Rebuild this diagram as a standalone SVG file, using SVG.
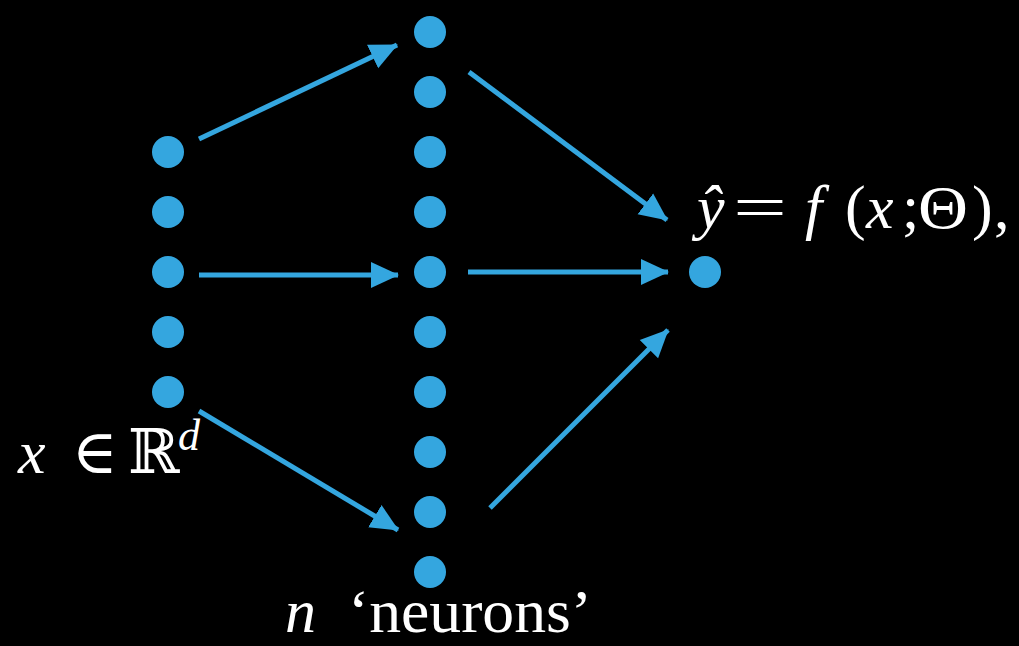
<svg xmlns="http://www.w3.org/2000/svg" width="1019" height="646" viewBox="0 0 1019 646">
<style>
.dot{fill:#34A6DF}
.ln{stroke:#34A6DF;stroke-width:5;fill:none;marker-end:url(#ah)}
.t{fill:#fff;font-family:'Liberation Serif','DejaVu Serif',serif;font-size:62px}
.i{font-style:italic}
</style>
<defs>
<marker id="ah" markerUnits="userSpaceOnUse" markerWidth="30" markerHeight="30" viewBox="0 0 30 30" refX="27" refY="15" orient="auto">
<path d="M0,2 L28,15 L0,28 Z" fill="#34A6DF"/>
</marker>
</defs>
<rect width="1019" height="646" fill="#000"/>
<g id="connectors">
<line class="ln" x1="199" y1="139" x2="397" y2="45"/>
<line class="ln" x1="199" y1="275" x2="398" y2="275"/>
<line class="ln" x1="199" y1="411" x2="398" y2="530"/>
<line class="ln" x1="469" y1="72" x2="667" y2="220"/>
<line class="ln" x1="468" y1="272" x2="668" y2="272"/>
<line class="ln" x1="490" y1="508" x2="668" y2="330"/>
</g>
<g id="input">
<circle class="dot" cx="168" cy="152" r="16"/>
<circle class="dot" cx="168" cy="212" r="16"/>
<circle class="dot" cx="168" cy="272" r="16"/>
<circle class="dot" cx="168" cy="332" r="16"/>
<circle class="dot" cx="168" cy="392" r="16"/>
</g>
<g id="hidden">
<circle class="dot" cx="430" cy="32" r="16"/>
<circle class="dot" cx="430" cy="92" r="16"/>
<circle class="dot" cx="430" cy="152" r="16"/>
<circle class="dot" cx="430" cy="212" r="16"/>
<circle class="dot" cx="430" cy="272" r="16"/>
<circle class="dot" cx="430" cy="332" r="16"/>
<circle class="dot" cx="430" cy="392" r="16"/>
<circle class="dot" cx="430" cy="452" r="16"/>
<circle class="dot" cx="430" cy="512" r="16"/>
<circle class="dot" cx="430" cy="572" r="16"/>
</g>
<g id="output">
<circle class="dot" cx="705" cy="272" r="16"/>
</g>
<g id="labels">
<text class="t" y="473"><tspan class="i" x="18">x</tspan><tspan x="72">∈</tspan><tspan x="128">ℝ</tspan><tspan class="i" x="178" y="450" font-size="44">d</tspan></text>
<text class="t" y="228"><tspan class="i" x="697">ŷ</tspan><tspan x="733" textLength="54" lengthAdjust="spacingAndGlyphs">=</tspan><tspan class="i" x="805">f</tspan><tspan x="845">(</tspan><tspan class="i" x="866">x</tspan><tspan x="902">;</tspan><tspan x="918" textLength="50" lengthAdjust="spacingAndGlyphs">Θ</tspan><tspan x="972">)</tspan><tspan x="994">,</tspan></text>
<text class="t" y="632" font-size="60"><tspan class="i" x="285">n</tspan><tspan x="348" textLength="244" lengthAdjust="spacingAndGlyphs">‘neurons’</tspan></text>
</g>
</svg>
